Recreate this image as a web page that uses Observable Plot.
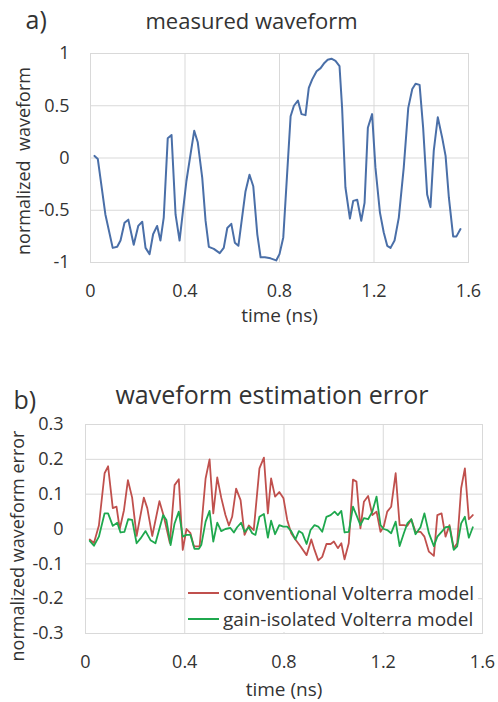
<!DOCTYPE html>
<html>
<head>
<meta charset="utf-8">
<script src="https://cdn.jsdelivr.net/npm/d3@7"></script>
<script src="https://cdn.jsdelivr.net/npm/@observablehq/plot@0.6"></script>
<style>
  html, body { margin: 0; padding: 0; background: #fff; }
  #wrap { position: relative; width: 498px; height: 702px; font-family: 'Open Sans', sans-serif; color: #333; }
  #top, #bottom { position: absolute; left: 0; }
  #top { top: 0; }
  #bottom { top: 340px; }
  #legend { position: absolute; left: 186px; top: 580px; width: 292px; height: 52px; background: #fff; font-size: 19px; }
  .row { display: flex; align-items: center; height: 26px; white-space: nowrap; }
  .sw { width: 31px; height: 2px; margin-left: 2px; margin-right: 4px; }
</style>
</head>
<body>
<div id="wrap">
  <div id="top"></div>
  <div id="bottom"></div>
  <div id="legend"></div>
</div>
<script>
// ---- data ----
const xTicks = [0, 0.4, 0.8, 1.2, 1.6];
const topYTicks = [-1, -0.5, 0, 0.5, 1];
const botYTicks = [-0.3, -0.2, -0.1, 0, 0.1, 0.2, 0.3];

const topT = [0.017,0.031,0.063,0.094,0.113,0.127,0.144,0.16,0.183,0.202,0.219,0.233,0.25,0.265,0.282,0.296,0.31,0.327,0.343,0.36,0.377,0.406,0.423,0.439,0.454,0.473,0.487,0.501,0.522,0.547,0.564,0.579,0.596,0.611,0.626,0.656,0.673,0.689,0.706,0.72,0.738,0.762,0.786,0.80,0.816,0.847,0.861,0.878,0.893,0.91,0.924,0.938,0.957,0.974,0.99,1.004,1.02,1.037,1.054,1.065,1.079,1.098,1.112,1.129,1.146,1.16,1.174,1.192,1.206,1.225,1.241,1.256,1.27,1.287,1.305,1.326,1.345,1.362,1.376,1.393,1.408,1.425,1.439,1.453,1.47,1.489,1.503,1.517,1.535,1.549,1.566];
const topV = [0.02,-0.01,-0.54,-0.86,-0.85,-0.79,-0.62,-0.59,-0.83,-0.65,-0.61,-0.86,-0.92,-0.73,-0.65,-0.79,-0.57,0.19,0.22,-0.54,-0.79,-0.22,0.03,0.26,0.15,-0.19,-0.60,-0.85,-0.87,-0.91,-0.86,-0.67,-0.63,-0.81,-0.84,-0.32,-0.16,-0.27,-0.73,-0.95,-0.95,-0.96,-0.98,-0.92,-0.76,0.40,0.50,0.55,0.42,0.41,0.67,0.75,0.83,0.86,0.91,0.94,0.95,0.93,0.88,0.48,-0.28,-0.58,-0.41,-0.40,-0.60,-0.43,0.29,0.42,-0.09,-0.52,-0.71,-0.84,-0.86,-0.79,-0.57,-0.09,0.48,0.66,0.71,0.70,0.29,-0.35,-0.47,0.07,0.39,0.19,0.02,-0.38,-0.75,-0.75,-0.68];

const redT = [0.017,0.034,0.054,0.077,0.091,0.11,0.125,0.138,0.155,0.171,0.188,0.206,0.235,0.249,0.269,0.298,0.316,0.34,0.359,0.376,0.392,0.407,0.423,0.437,0.46,0.484,0.50,0.515,0.531,0.547,0.564,0.578,0.591,0.607,0.625,0.641,0.658,0.678,0.701,0.719,0.735,0.748,0.764,0.781,0.798,0.813,0.829,0.846,0.867,0.891,0.91,0.923,0.938,0.954,0.971,0.988,1.001,1.017,1.031,1.044,1.061,1.078,1.092,1.108,1.122,1.139,1.156,1.173,1.189,1.202,1.216,1.232,1.25,1.266,1.283,1.297,1.313,1.33,1.35,1.366,1.384,1.404,1.418,1.435,1.451,1.467,1.484,1.498,1.514,1.529,1.545,1.561];
const redV = [-0.03,-0.04,0.01,0.16,0.18,0.06,0.064,0.0,0.054,0.14,0.09,-0.02,0.09,0.06,-0.02,0.08,0.035,-0.04,0.126,0.143,-0.06,0.0,-0.012,-0.05,-0.05,0.145,0.20,0.045,0.148,0.09,0.04,0.01,0.035,0.116,0.083,-0.017,0.01,-0.003,0.174,0.205,0.045,0.145,0.093,0.106,0.088,0.026,-0.012,-0.03,-0.05,-0.075,-0.03,-0.06,-0.09,-0.08,-0.043,-0.043,-0.036,-0.055,-0.041,-0.087,-0.041,0.142,0.136,0.002,0.078,0.095,0.04,0.05,-0.008,0.007,0.05,0.064,0.16,0.011,0.011,0.009,0.028,-0.008,-0.008,-0.022,-0.065,-0.077,0.04,0.045,-0.022,0.011,-0.055,-0.041,0.117,0.174,0.028,0.04];

const greenT = [0.017,0.034,0.054,0.077,0.091,0.11,0.128,0.141,0.157,0.172,0.188,0.206,0.222,0.242,0.262,0.282,0.313,0.326,0.343,0.359,0.376,0.392,0.407,0.423,0.439,0.457,0.467,0.484,0.50,0.515,0.531,0.547,0.564,0.584,0.598,0.611,0.627,0.641,0.658,0.672,0.685,0.701,0.719,0.735,0.748,0.764,0.781,0.797,0.813,0.829,0.846,0.86,0.874,0.891,0.907,0.923,0.938,0.954,0.971,0.988,1.004,1.017,1.031,1.044,1.061,1.078,1.092,1.108,1.122,1.139,1.156,1.173,1.189,1.202,1.216,1.232,1.25,1.266,1.283,1.297,1.313,1.33,1.35,1.366,1.384,1.404,1.418,1.435,1.451,1.467,1.484,1.498,1.514,1.529,1.545,1.561];
const greenV = [-0.034,-0.048,-0.022,0.045,0.045,0.009,0.018,-0.01,-0.008,0.028,0.026,-0.041,-0.027,-0.006,-0.032,-0.041,0.04,0.026,-0.046,0.016,0.05,-0.022,-0.017,-0.017,-0.057,-0.057,-0.045,0.021,0.052,-0.036,0.018,-0.006,0.0,0.003,-0.01,0.005,0.018,-0.008,0.005,-0.012,-0.017,0.035,0.043,-0.025,0.024,-0.015,0.011,0.007,0.007,-0.006,-0.03,-0.006,-0.012,-0.043,-0.003,0.011,0.007,-0.008,0.035,0.04,0.05,0.04,0.052,-0.01,-0.008,0.064,0.04,0.011,0.031,0.028,0.05,0.093,0.011,0.0,-0.003,-0.012,0.021,-0.049,-0.012,0.016,0.028,-0.015,0.005,0.045,-0.012,-0.049,-0.022,-0.008,0.005,0.007,-0.06,-0.05,0.016,0.035,-0.025,0.005];

const seriesNames = ["conventional Volterra model", "gain-isolated Volterra model"];
const seriesColors = ["#c0504d", "#1fa84e"];
const waveColor = "#4a6fa8";

// ---- build ----
const fmt = d => String(d);
const gridColor = "#d9d9d9";
const font = "'Open Sans', sans-serif";
const textColor = "#333";

const topData = topT.map((t, i) => ({t, v: topV[i]}));
const redData = redT.map((t, i) => ({t, v: redV[i]}));
const greenData = greenT.map((t, i) => ({t, v: greenV[i]}));

const topPlot = Plot.plot({
  width: 498, height: 340,
  marginTop: 53, marginBottom: 78, marginLeft: 90, marginRight: 30,
  style: {fontFamily: font, fontSize: "18px", color: textColor, background: "#fff", overflow: "visible"},
  x: {domain: [0, 1.6], label: null},
  y: {domain: [-1, 1], label: null},
  marks: [
    Plot.gridX(xTicks, {stroke: gridColor, strokeOpacity: 1}),
    Plot.gridY(topYTicks, {stroke: gridColor, strokeOpacity: 1}),
    Plot.frame({stroke: gridColor}),
    Plot.axisX(xTicks, {tickSize: 0, tickPadding: 22, tickFormat: fmt, fontSize: 18, label: null}),
    Plot.axisY(topYTicks, {tickSize: 0, tickPadding: 21, tickFormat: fmt, fontSize: 18, label: null}),
    Plot.line(topData, {x: "t", y: "v", stroke: waveColor, strokeWidth: 2}),
    Plot.text(["a)"], {text: d => d, frameAnchor: "top-left", textAnchor: "start", lineAnchor: "middle", dx: -65, dy: -33, fontSize: 25}),
    Plot.text(["measured waveform"], {text: d => d, frameAnchor: "top", lineAnchor: "middle", dx: -28, dy: -32, fontSize: 22}),
    Plot.text(["time (ns)"], {text: d => d, frameAnchor: "bottom", lineAnchor: "middle", dy: 53, fontSize: 19}),
    Plot.text(["normalized  waveform"], {text: d => d, frameAnchor: "left", textAnchor: "middle", lineAnchor: "middle", rotate: -90, dx: -66, dy: 3, fontSize: 18})
  ]
});
document.getElementById("top").appendChild(topPlot);

const botPlot = Plot.plot({
  width: 498, height: 362,
  marginTop: 84, marginBottom: 69, marginLeft: 85, marginRight: 16,
  style: {fontFamily: font, fontSize: "18px", color: textColor, background: "#fff", overflow: "visible"},
  x: {domain: [0, 1.6], label: null},
  y: {domain: [-0.3, 0.3], label: null},
  marks: [
    Plot.gridX(xTicks, {stroke: gridColor, strokeOpacity: 1}),
    Plot.gridY(botYTicks, {stroke: gridColor, strokeOpacity: 1}),
    Plot.frame({stroke: gridColor}),
    Plot.axisX(xTicks, {tickSize: 0, tickPadding: 22, tickFormat: fmt, fontSize: 18, label: null}),
    Plot.axisY(botYTicks, {tickSize: 0, tickPadding: 22, tickFormat: fmt, fontSize: 18, label: null}),
    Plot.line(redData, {x: "t", y: "v", stroke: seriesColors[0], strokeWidth: 1.8}),
    Plot.line(greenData, {x: "t", y: "v", stroke: seriesColors[1], strokeWidth: 1.8}),
    Plot.text(["b)"], {text: d => d, frameAnchor: "top-left", textAnchor: "start", lineAnchor: "middle", dx: -72, dy: -24, fontSize: 25}),
    Plot.text(["waveform estimation error"], {text: d => d, frameAnchor: "top", lineAnchor: "middle", dx: -12, dy: -29, fontSize: 25}),
    Plot.text(["time (ns)"], {text: d => d, frameAnchor: "bottom", lineAnchor: "middle", dy: 56, fontSize: 19}),
    Plot.text(["normalized waveform error"], {text: d => d, frameAnchor: "left", textAnchor: "middle", lineAnchor: "middle", rotate: -90, dx: -67, dy: 17, fontSize: 18})
  ]
});
document.getElementById("bottom").appendChild(botPlot);

// legend
const legend = document.getElementById("legend");
seriesNames.forEach((name, i) => {
  const row = document.createElement("div");
  row.className = "row";
  const sw = document.createElement("span");
  sw.className = "sw";
  sw.style.background = seriesColors[i];
  const label = document.createElement("span");
  label.textContent = name;
  row.appendChild(sw);
  row.appendChild(label);
  legend.appendChild(row);
});
</script>
</body>
</html>
